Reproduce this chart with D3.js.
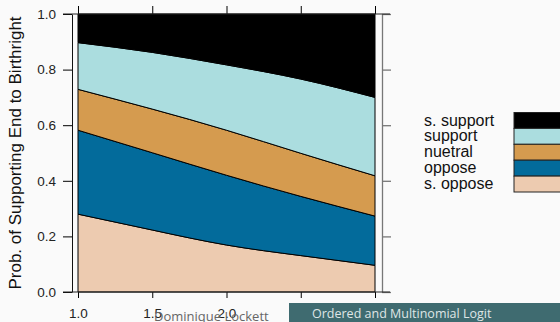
<!DOCTYPE html>
<html>
<head>
<meta charset="utf-8">
<script src="https://cdn.jsdelivr.net/npm/d3@7"></script>
<style>
  html, body { margin: 0; padding: 0; background: #fafafa; }
  svg { display: block; }
  .tick text { font-family: "Liberation Sans", Arial, sans-serif; font-size: 13.5px; fill: #222; }
</style>
</head>
<body>
<div id="chart"></div>
<script>
// values
const xVals = [1.0, 1.5, 2.0, 2.5, 3.0];
const sOppose  = [0.280, 0.223, 0.169, 0.131, 0.096];
const oppose   = [0.302, 0.278, 0.251, 0.213, 0.177];
const nuetral  = [0.147, 0.157, 0.162, 0.155, 0.145];
const support  = [0.168, 0.204, 0.235, 0.267, 0.282];
const sSupport = [0.103, 0.138, 0.183, 0.234, 0.300];

const categories = ["s. oppose", "oppose", "nuetral", "support", "s. support"];
const colors = ["#edcbb0", "#036b9b", "#d59b4f", "#abdddf", "#000000"];
const yTicks = [0, 0.2, 0.4, 0.6, 0.8, 1.0];
const xTicks = [1.0, 1.5, 2.0, 2.5, 3.0];

const width = 560, height = 322;

const rows = xVals.map((x, i) => ({
  x: x,
  "s. oppose": sOppose[i],
  "oppose": oppose[i],
  "nuetral": nuetral[i],
  "support": support[i],
  "s. support": sSupport[i]
}));

const svg = d3.select("#chart").append("svg")
  .attr("width", width)
  .attr("height", height);

svg.append("rect")
  .attr("width", width).attr("height", height)
  .attr("fill", "#fafafa");

var xScale = d3.scaleLinear().domain([1, 3]).range([78, 375]);
var yScale = d3.scaleLinear().domain([0, 1]).range([292, 14]);

const stack = d3.stack().keys(categories);
const series = stack(rows);

var area = d3.area()
  .x(d => xScale(d.data.x))
  .y0(d => yScale(d[0]))
  .y1(d => yScale(d[1]))
  .curve(d3.curveNatural);

svg.append("g")
  .selectAll("path")
  .data(series).enter()
  .append("path")
  .attr("d", area)
  .attr("fill", (d, i) => colors[i])
  .attr("stroke", "#000")
  .attr("stroke-width", 1);

/* axes */
const [x0, x1] = xScale.range();
const [yb, yt] = yScale.range();

// left
svg.append("g")
  .attr("transform", `translate(${x0 - 6}, 0)`)
  .call(d3.axisLeft(yScale).tickValues(yTicks).tickFormat(d3.format(".1f"))
    .tickSize(9).tickSizeOuter(0).tickPadding(7))
  .call(g => g.select(".domain").attr("stroke", "#111"));

// bottom
svg.append("g")
  .attr("transform", `translate(0, ${yb})`)
  .call(d3.axisBottom(xScale).tickValues(xTicks).tickFormat(d3.format(".1f"))
    .tickSize(6).tickSizeOuter(0).tickPadding(10))
  .call(g => g.select(".domain").remove());

// top
svg.append("g")
  .attr("transform", `translate(0, ${yt})`)
  .call(d3.axisTop(xScale).tickValues(xTicks).tickFormat("").tickSize(8).tickSizeOuter(0))
  .call(g => g.select(".domain").remove());

// right (gray)
svg.append("g")
  .attr("transform", `translate(${x1 + 7}, 0)`)
  .call(d3.axisRight(yScale).tickValues(yTicks).tickFormat("").tickSize(9).tickSizeOuter(0))
  .call(g => g.selectAll("line, path").attr("stroke", "#777").attr("stroke-width", 1.3));

// horizontal frame lines
[yb, yt].forEach(y => {
  svg.append("line")
    .attr("x1", x0 - 15).attr("x2", x1 + 15)
    .attr("y1", y).attr("y2", y)
    .attr("stroke", "#222");
});

// y title
svg.append("text")
  .attr("transform", `translate(21, ${(yb + yt) / 2}) rotate(-90)`)
  .attr("text-anchor", "middle")
  .style("font-family", "Liberation Sans, Arial, sans-serif")
  .style("font-size", "17px")
  .attr("fill", "#111")
  .text("Prob. of Supporting End to Birthright");

/* legend */
const legend = svg.append("g").attr("transform", "translate(514, 112.5)");
const rowH = 15.9;
const legendOrder = categories.slice().reverse();
const legendColors = colors.slice().reverse();

legend.selectAll("rect")
  .data(legendOrder).enter()
  .append("rect")
  .attr("x", 0)
  .attr("y", (d, i) => i * rowH)
  .attr("width", 60)
  .attr("height", rowH)
  .attr("fill", (d, i) => legendColors[i])
  .attr("stroke", "#222");

legend.selectAll("text")
  .data(legendOrder).enter()
  .append("text")
  .attr("x", -90)
  .attr("y", (d, i) => i * rowH + rowH / 2)
  .attr("dy", "0.32em")
  .style("font-family", "Liberation Sans, Arial, sans-serif")
  .style("font-size", "16px")
  .attr("fill", "#111")
  .text(d => d);

/* footer */
svg.append("rect")
  .attr("x", 289).attr("y", 303)
  .attr("width", width - 289).attr("height", 19)
  .attr("fill", "#3f6b70");

svg.append("text")
  .attr("x", 312).attr("y", 318)
  .style("font-family", "Open Sans, sans-serif")
  .style("font-size", "12.5px")
  .attr("fill", "#dfe6e6")
  .text("Ordered and Multinomial Logit");

svg.append("text")
  .attr("x", 154).attr("y", 321)
  .style("font-family", "Open Sans, sans-serif")
  .style("font-size", "13px")
  .attr("fill", "#666")
  .text("Dominique Lockett");
</script>
</body>
</html>
